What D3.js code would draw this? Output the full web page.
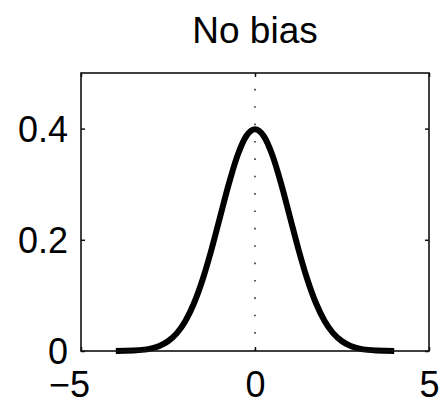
<!DOCTYPE html>
<html>
<head>
<meta charset="utf-8">
<script src="https://cdn.jsdelivr.net/npm/d3@7"></script>
<style>
  html, body { margin: 0; padding: 0; background: #fff; }
  svg { display: block; font-family: "Liberation Sans", Arial, Helvetica, sans-serif; }
</style>
</head>
<body>
<svg id="chart" width="441" height="400"></svg>
<script>
// ---- data ----
const title = "No bias";
const xValues = [-4, -3.75, -3.5, -3.25, -3, -2.75, -2.5, -2.25, -2, -1.75, -1.5, -1.25, -1, -0.75, -0.5, -0.25,
                 0, 0.25, 0.5, 0.75, 1, 1.25, 1.5, 1.75, 2, 2.25, 2.5, 2.75, 3, 3.25, 3.5, 3.75, 4];
const yValues = [0.0001, 0.0004, 0.0009, 0.002, 0.0044, 0.0091, 0.0175, 0.0317, 0.054, 0.0863, 0.1295, 0.1826, 0.242, 0.3011, 0.352, 0.3867,
                 0.399, 0.3867, 0.352, 0.3011, 0.242, 0.1826, 0.1295, 0.0863, 0.054, 0.0317, 0.0175, 0.0091, 0.0044, 0.002, 0.0009, 0.0004, 0.0001];
const xTicks = [-5, 0, 5];
const yTicks = [0, 0.2, 0.4];
const xDomain = [-5, 5];
const yDomain = [0, 0.5];
const refLineX = 0;

// ---- layout ----
const svg = d3.select("#chart");
const mLeft = 81, mRight = 429, mTop = 73, mBottom = 351;
const x = d3.scaleLinear().domain(xDomain).range([mLeft, mRight]);
const y = d3.scaleLinear().domain(yDomain).range([mBottom, mTop]);
const ink = "#111";
const fontSize = 36;

// dotted reference line
svg.append("line")
  .attr("x1", x(refLineX)).attr("x2", x(refLineX))
  .attr("y1", y(yDomain[0])).attr("y2", y(yDomain[1]))
  .attr("stroke", "#333").attr("stroke-width", 1.6)
  .attr("stroke-dasharray", "1.6," + ((mBottom - mTop) / 16 - 1.6));

// curve
const pts = xValues.map((v, i) => [v, yValues[i]]);
svg.append("path")
  .datum(pts)
  .attr("fill", "none")
  .attr("stroke", "#000")
  .attr("stroke-width", 6)
  .attr("stroke-linejoin", "round")
  .attr("d", d3.line().x(d => x(d[0])).y(d => y(d[1])).curve(d3.curveMonotoneX));

// axes with inward ticks
const fmt = d => (d < 0 ? "\u2212" + Math.abs(d) : String(d));
const ax = svg.append("g").attr("transform", `translate(0,${mBottom})`)
  .call(d3.axisBottom(x).tickValues(xTicks).tickSize(-4).tickPadding(0).tickFormat(fmt));
const axTop = svg.append("g").attr("transform", `translate(0,${mTop})`)
  .call(d3.axisTop(x).tickValues(xTicks).tickSize(-4).tickFormat(""));
const ay = svg.append("g").attr("transform", `translate(${mLeft},0)`)
  .call(d3.axisLeft(y).tickValues(yTicks).tickSize(-4).tickPadding(13).tickFormat(d3.format(".1~f")));
const ayR = svg.append("g").attr("transform", `translate(${mRight},0)`)
  .call(d3.axisRight(y).tickValues(yTicks).tickSize(-4).tickFormat(""));

[ax, axTop, ay, ayR].forEach(g => {
  g.select(".domain").remove();
  g.selectAll(".tick line").attr("stroke", ink).attr("stroke-width", 1.5);
});
ax.selectAll(".tick text")
  .attr("fill", "#000").attr("font-size", fontSize)
  .attr("font-family", "Liberation Sans, Arial, sans-serif")
  .attr("dy", null).attr("y", 46)
  .attr("dx", d => (d < 0 ? -12 : 0));
ay.selectAll(".tick text")
  .attr("fill", "#000").attr("font-size", fontSize)
  .attr("font-family", "Liberation Sans, Arial, sans-serif")
  .attr("dy", "0.36em");

// box
svg.append("rect")
  .attr("x", mLeft).attr("y", mTop)
  .attr("width", mRight - mLeft).attr("height", mBottom - mTop)
  .attr("fill", "none").attr("stroke", ink).attr("stroke-width", 1.6);

// title
svg.append("text")
  .attr("x", (mLeft + mRight) / 2).attr("y", 43)
  .attr("text-anchor", "middle")
  .attr("font-size", 37)
  .attr("fill", "#000")
  .text(title);
</script>
</body>
</html>
